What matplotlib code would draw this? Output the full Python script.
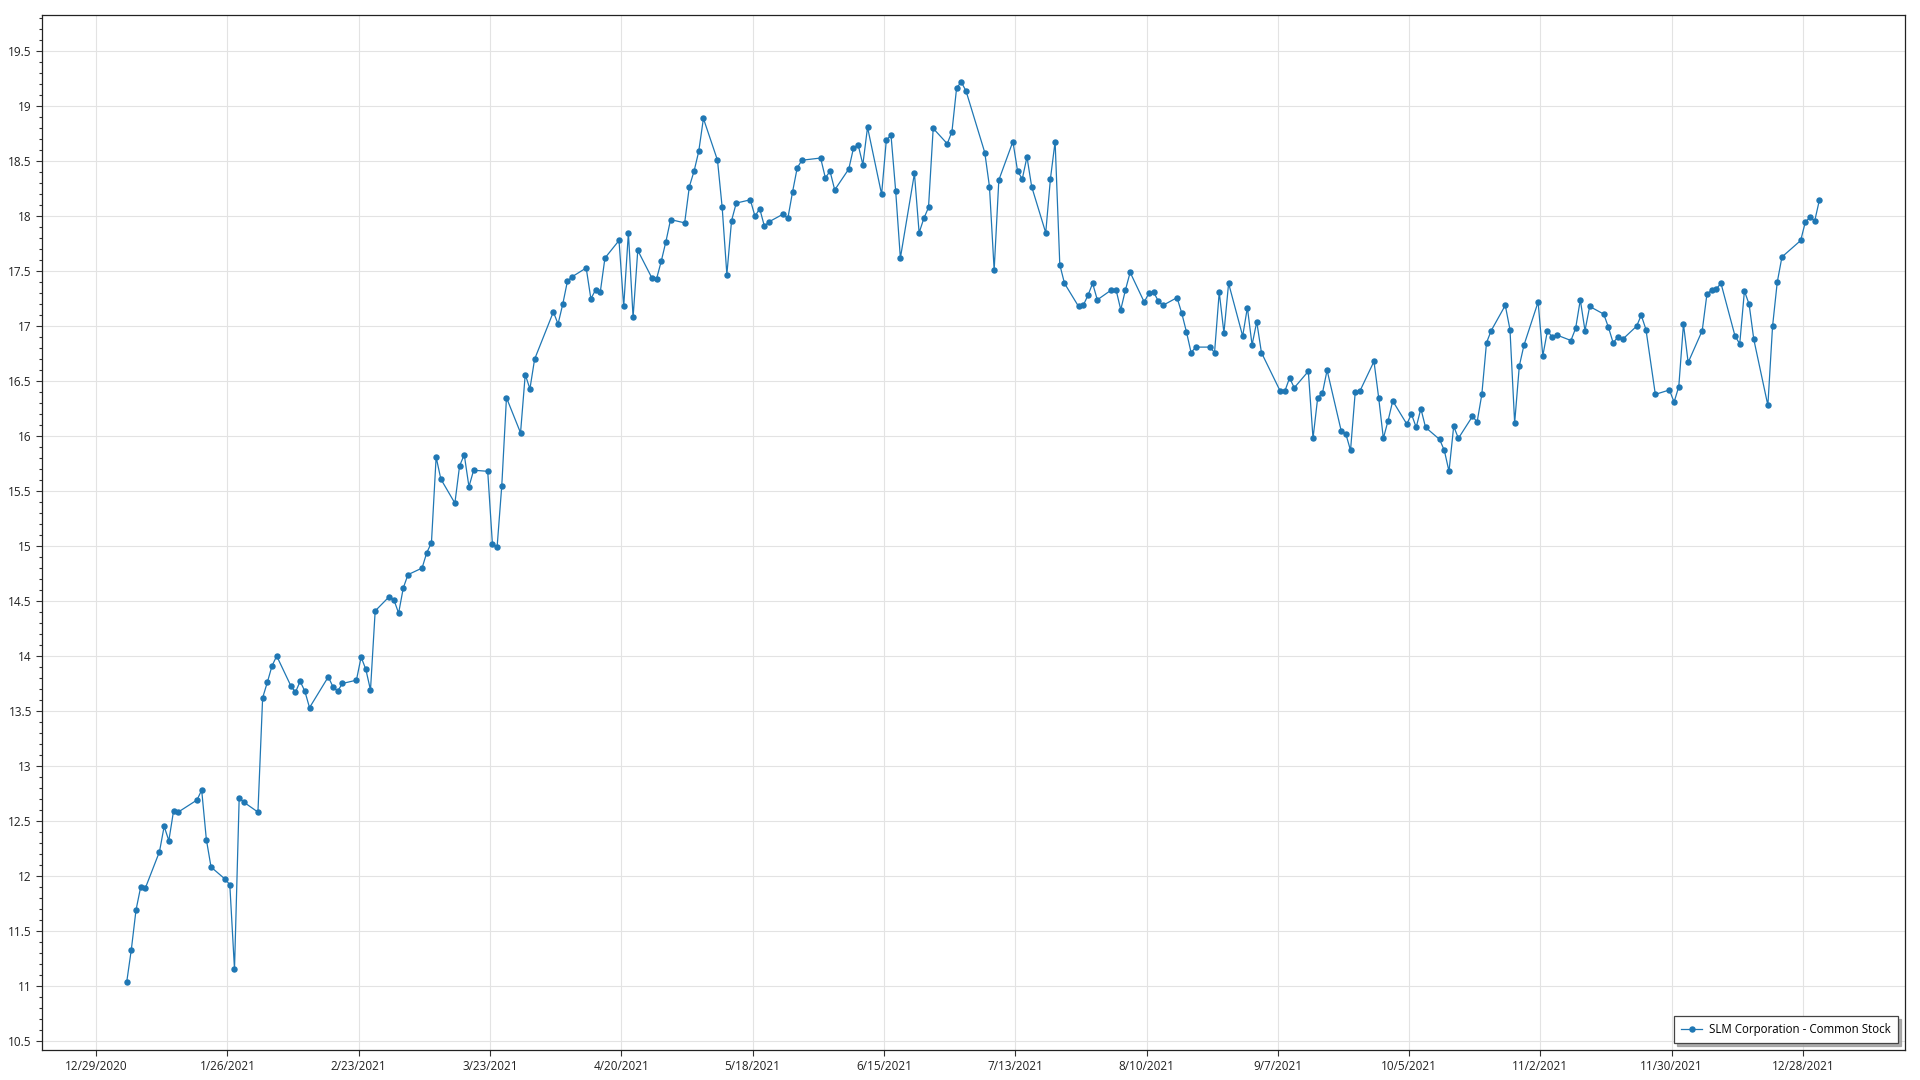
import numpy as np
import pandas as pd
import matplotlib as mpl
mpl.use('Agg')
import matplotlib.pyplot as plt
import matplotlib.dates as mdates
from matplotlib.ticker import MultipleLocator, FuncFormatter

mpl.rcParams['font.family'] = ['Open Sans', 'DejaVu Sans']

# NYSE trading days 2021
holidays = ['2021-01-18', '2021-02-15', '2021-04-02', '2021-05-31',
            '2021-07-05', '2021-09-06', '2021-11-25', '2021-12-24']
days = pd.bdate_range('2021-01-04', '2021-12-31')
days = days[~days.isin(pd.to_datetime(holidays))] + pd.Timedelta(hours=12)

jan = [11.03, 11.33, 11.69, 11.90, 11.89, 12.22, 12.45, 12.32, 12.59, 12.58,
       12.69, 12.78, 12.33, 12.08, 11.97, 11.92, 11.15, 12.71, 12.67]
feb = [12.58, 13.62, 13.76, 13.91, 14.00, 13.73, 13.67, 13.77, 13.68, 13.53,
       13.81, 13.72, 13.68, 13.75, 13.78, 13.99, 13.88, 13.69, 14.41]
mar = [14.54, 14.51, 14.39, 14.62, 14.74, 14.80, 14.94, 15.03, 15.81, 15.61,
       15.39, 15.73, 15.83, 15.54, 15.69, 15.68, 15.02, 14.99, 15.55, 16.35,
       16.03, 16.56, 16.43]
apr = [16.70, 17.13, 17.02, 17.20, 17.41, 17.45, 17.53, 17.25, 17.33, 17.31,
       17.62, 17.78, 17.18, 17.85, 17.08, 17.69, 17.44, 17.43, 17.59, 17.77,
       17.97]
may = [17.94, 18.27, 18.41, 18.59, 18.89, 18.51, 18.08, 17.47, 17.96, 18.12,
       18.15, 18.00, 18.07, 17.91, 17.95, 18.02, 17.98, 18.22, 18.44, 18.51]
jun = [18.53, 18.35, 18.41, 18.24, 18.43, 18.62, 18.65, 18.47, 18.81, 18.20,
       18.69, 18.74, 18.23, 17.62, 18.39, 17.85, 17.98, 18.08, 18.80, 18.66,
       18.77, 19.17]
jul = [19.22, 19.14, 18.58, 18.27, 17.51, 18.33, 18.68, 18.41, 18.34, 18.54,
       18.27, 17.85, 18.34, 18.68, 17.56, 17.39, 17.18, 17.19, 17.28, 17.39,
       17.24]
aug = [17.33, 17.33, 17.15, 17.33, 17.49, 17.22, 17.30, 17.31, 17.23, 17.19,
       17.26, 17.12, 16.95, 16.76, 16.81, 16.81, 16.76, 17.31, 16.94, 17.39,
       16.91, 17.17]
sep = [16.83, 17.04, 16.76, 16.41, 16.41, 16.53, 16.44, 16.59, 15.98, 16.35,
       16.39, 16.60, 16.05, 16.02, 15.87, 16.40, 16.41, 16.68, 16.35, 15.98,
       16.14]
oct_ = [16.32, 16.11, 16.20, 16.08, 16.25, 16.08, 15.97, 15.87, 15.68, 16.09,
        15.98, 16.18, 16.13, 16.38, 16.85, 16.96, 17.19, 16.97, 16.12, 16.64,
        16.83]
nov = [17.22, 16.73, 16.96, 16.90, 16.92, 16.87, 16.98, 17.24, 16.96, 17.18,
       17.11, 16.99, 16.85, 16.90, 16.88, 17.00, 17.10, 16.97, 16.38, 16.42,
       16.31]
dec = [16.45, 17.02, 16.67, 16.96, 17.29, 17.33, 17.34, 17.39, 16.91, 16.84,
       17.32, 17.20, 16.88, 16.28, 17.00, 17.40, 17.63, 17.78, 17.95, 17.99,
       17.96, 18.15]
prices = jan + feb + mar + apr + may + jun + jul + aug + sep + oct_ + nov + dec

tick_dates = pd.date_range('2020-12-29', periods=14, freq='28D')

fig = plt.figure(figsize=(19.2, 10.8), dpi=100)
ax = fig.add_axes([0.022, 0.028, 0.970, 0.958])

ax.plot(days, prices, color='#1f77b4', lw=0.9, marker='o', ms=3.6,
        label='SLM Corporation - Common Stock')

ax.set_xlim(pd.Timestamp('2020-12-17 12:00'), pd.Timestamp('2022-01-18 16:00'))
ax.set_ylim(10.418, 19.83)
ax.set_xticks(tick_dates)
ax.xaxis.set_major_formatter(FuncFormatter(
    lambda x, p: (lambda d: f'{d.month}/{d.day}/{d.year}')(mdates.num2date(x))))
ax.yaxis.set_major_locator(MultipleLocator(0.5))
ax.yaxis.set_minor_locator(MultipleLocator(0.1))
ax.yaxis.set_major_formatter(FuncFormatter(lambda v, p: f'{v:g}'))

ax.grid(True, which='major', color='#e3e3e3', lw=0.8)
ax.set_axisbelow(True)
ax.tick_params(axis='both', which='major', labelsize=8.5, labelcolor='#222222',
               length=4, width=0.8, color='#333333')
ax.tick_params(axis='y', which='minor', length=2.5, width=0.8, color='#333333')
for s in ax.spines.values():
    s.set_color('#222222')
    s.set_linewidth(0.9)

leg = ax.legend(loc='lower right', fontsize=8.3, fancybox=False,
                shadow={'ox': 2, 'oy': -2, 'color': '0.6', 'alpha': 0.8},
                edgecolor='#444444', framealpha=1, borderaxespad=0.6,
                handlelength=1.8, handletextpad=0.6, borderpad=0.6)
leg.get_frame().set_linewidth(0.9)

fig.savefig('out.png', dpi=100)
